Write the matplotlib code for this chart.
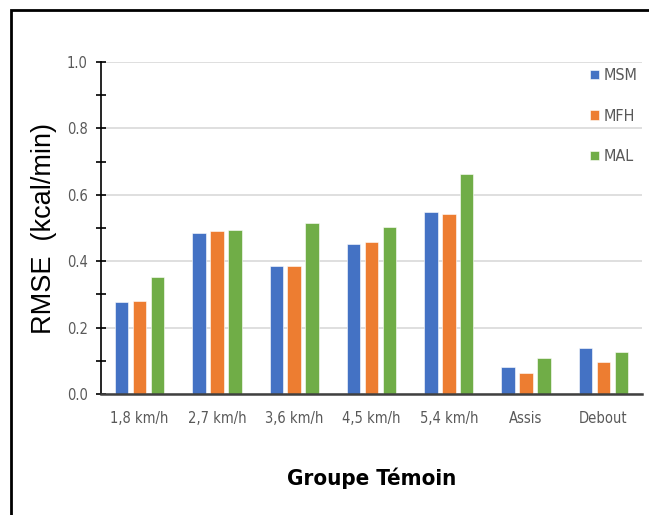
import numpy as np
import matplotlib
matplotlib.use("Agg")
from matplotlib import pyplot as plt
from matplotlib.patches import Rectangle
from matplotlib.ticker import MultipleLocator, FormatStrFormatter

categories = ['1,8 km/h', '2,7 km/h', '3,6 km/h', '4,5 km/h', '5,4 km/h', 'Assis', 'Debout']
msm = [0.277, 0.485, 0.386, 0.451, 0.547, 0.082, 0.138]
mfh = [0.281, 0.490, 0.386, 0.457, 0.542, 0.062, 0.095]
mal = [0.352, 0.495, 0.514, 0.504, 0.662, 0.109, 0.128]
series = ['MSM', 'MFH', 'MAL']
colors = ['#4472c4', '#ed7d31', '#70ad47']

narrow = ['Liberation Sans Narrow', 'DejaVu Sans']
gray = '#595959'

fig = plt.figure(figsize=(6.49, 5.15), dpi=100)
ax = fig.add_axes([101/649, 1-394/515, 541/649, 332/515])

x = np.arange(len(categories))
w = 0.175
step = 0.232
for i, (vals, name, c) in enumerate(zip([msm, mfh, mal], series, colors)):
    ax.bar(x + (i-1)*step, vals, w, color=c, label=name, edgecolor='white', linewidth=0.4, zorder=3)

ax.set_xlim(-0.5, len(categories)-0.5)
ax.set_ylim(0, 1.0)
ax.yaxis.set_major_locator(MultipleLocator(0.2))
ax.yaxis.set_minor_locator(MultipleLocator(0.1))
ax.yaxis.set_major_formatter(FormatStrFormatter('%.1f'))
ax.yaxis.grid(True, which='major', color='#d9d9d9', linewidth=1.2, zorder=0)
ax.set_xticks(x)
ax.set_xticklabels(categories)

for s in ['top', 'right']:
    ax.spines[s].set_visible(False)
ax.spines['left'].set_color('black')
ax.spines['left'].set_linewidth(1.2)
ax.spines['bottom'].set_color('#404040')
ax.spines['bottom'].set_linewidth(1.8)
ax.spines['bottom'].set_zorder(4)

ax.tick_params(axis='y', which='both', direction='inout', length=7, width=1.2, color='black', pad=6)
ax.tick_params(axis='x', length=0, pad=12)
for lab in ax.get_xticklabels() + ax.get_yticklabels():
    lab.set_family(narrow)
    lab.set_stretch('condensed')
    lab.set_fontsize(10.5)
    lab.set_color(gray)

ax.set_ylabel('RMSE  (kcal/min)', fontsize=19.5, family=['Liberation Sans', 'DejaVu Sans'], labelpad=7)
ax.set_xlabel('Groupe Témoin', fontsize=16, fontweight='bold', family=narrow,
              fontstretch='condensed', labelpad=30)

leg = ax.legend(loc='upper left', bbox_to_anchor=(0.878, 1.025), frameon=False,
                handlelength=0.55, handleheight=0.55, handletextpad=0.3,
                labelspacing=1.6, prop={'family': narrow, 'size': 11.5, 'stretch': 'condensed'})
for t in leg.get_texts():
    t.set_color(gray)

# outer frame of the chart
fig.patches.append(Rectangle((11/649, -0.1), 1.2, 1-10/515+0.1, transform=fig.transFigure,
                             fill=False, edgecolor='black', linewidth=2))

fig.savefig('out.png', dpi=100)
